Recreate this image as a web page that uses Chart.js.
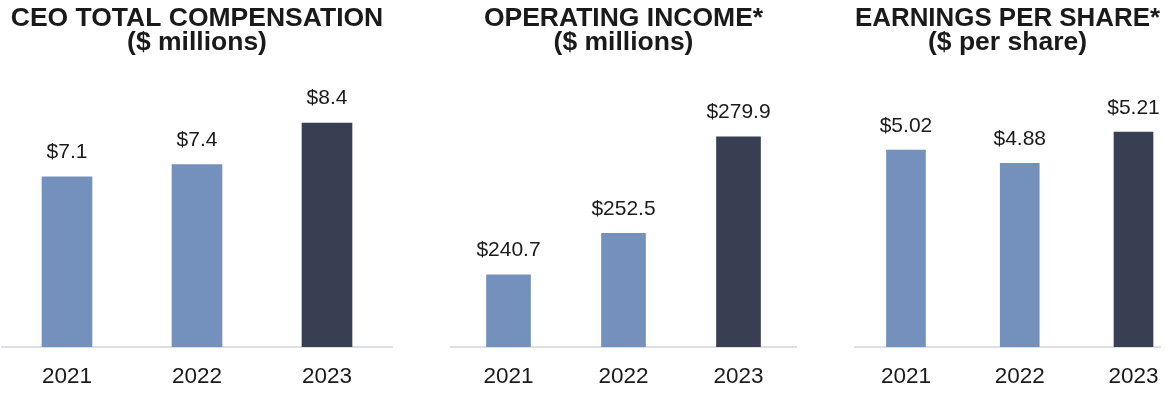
<!DOCTYPE html>
<html>
<head>
<meta charset="utf-8">
<script src="https://cdn.jsdelivr.net/npm/chart.js@4.4.1/dist/chart.umd.min.js"></script>
<style>
  html, body { margin: 0; padding: 0; background: #ffffff; width: 1166px; height: 394px; overflow: hidden; }
  body { position: relative; }
  .panel { position: absolute; top: 0; height: 411px; }
  .panel canvas { display: block; }
</style>
</head>
<body>
<div class="panel" id="p1" style="left:0px;width:400px;"><canvas id="c1"></canvas></div>
<div class="panel" id="p2" style="left:420px;width:390px;"><canvas id="c2"></canvas></div>
<div class="panel" id="p3" style="left:830px;width:336px;"><canvas id="c3"></canvas></div>
<script>
// ---- data ----
const years = ['2021', '2022', '2023'];

const ceoCompTitle = ['CEO TOTAL COMPENSATION', '($ millions)'];
const ceoCompValues = [7.1, 7.4, 8.4];

const opIncomeTitle = ['OPERATING INCOME*', '($ millions)'];
const opIncomeValues = [240.7, 252.5, 279.9];

const epsTitle = ['EARNINGS PER SHARE*', '($ per share)'];
const epsValues = [5.02, 4.88, 5.21];

// ---- styling ----
const LIGHT = '#7491be';
const DARK = '#383f53';
const barColors = [LIGHT, LIGHT, DARK];
const FONT = "'Liberation Sans', Arial, Helvetica, sans-serif";
const TEXT = '#1a1a1a';

const valueLabels = {
  id: 'valueLabels',
  afterDatasetsDraw(chart, args, opts) {
    const ctx = chart.ctx;
    const meta = chart.getDatasetMeta(0);
    const ds = chart.data.datasets[0];
    ctx.save();
    ctx.font = '21px ' + FONT;
    ctx.fillStyle = TEXT;
    ctx.textAlign = 'center';
    ctx.textBaseline = 'alphabetic';
    meta.data.forEach((bar, i) => {
      const v = ds.data[i].y;
      ctx.fillText('$' + v.toFixed(opts.decimals), bar.x, bar.y - opts.gap);
    });
    ctx.restore();
  }
};

function makeChart(id, title, values, cfg) {
  const points = values.map((v, i) => ({ x: i, y: v }));
  return new Chart(document.getElementById(id), {
    type: 'bar',
    data: {
      datasets: [{
        data: points,
        backgroundColor: barColors,
        borderWidth: 0,
        barThickness: cfg.barWidth
      }]
    },
    plugins: [valueLabels],
    options: {
      responsive: true,
      maintainAspectRatio: false,
      animation: false,
      layout: { padding: { left: cfg.padLeft, right: cfg.padRight, top: 0, bottom: 5 } },
      plugins: {
        legend: { display: false },
        tooltip: { enabled: false },
        title: {
          display: true,
          text: title,
          color: TEXT,
          font: { family: FONT, size: 26.5, weight: 'bold', lineHeight: 0.925 },
          padding: { top: 6, bottom: 24 }
        },
        valueLabels: { decimals: cfg.decimals, gap: 18.5 }
      },
      scales: {
        x: {
          type: 'linear',
          offset: false,
          min: cfg.xMin,
          max: cfg.xMax,
          afterBuildTicks: (s) => { s.ticks = years.map((_, i) => ({ value: i })); },
          afterFit: (s) => { s.paddingLeft = 0; s.paddingRight = 0; },
          grid: { display: false, drawTicks: false },
          border: { display: true, color: '#dedfe2', width: 2 },
          ticks: {
            color: TEXT,
            font: { family: FONT, size: 22.5 },
            padding: 16,
            autoSkip: false,
            maxRotation: 0,
            callback: (v) => years[v] ?? ''
          }
        },
        y: {
          display: false,
          min: cfg.yMin,
          max: cfg.yMax
        }
      }
    }
  });
}

makeChart('c1', ceoCompTitle, ceoCompValues,
  { barWidth: 50, padLeft: 2, padRight: 8, xMin: -0.5, xMax: 2.5, yMin: 3.0, yMax: 9.46, decimals: 1 });
makeChart('c2', opIncomeTitle, opIncomeValues,
  { barWidth: 44, padLeft: 31, padRight: 14, xMin: -0.5, xMax: 2.5, yMin: 220.2, yMax: 296.3, decimals: 1 });
makeChart('c3', epsTitle, epsValues,
  { barWidth: 39, padLeft: 25, padRight: 6, xMin: -0.448, xMax: 2.233, yMin: 2.94, yMax: 5.77, decimals: 2 });
</script>
</body>
</html>
